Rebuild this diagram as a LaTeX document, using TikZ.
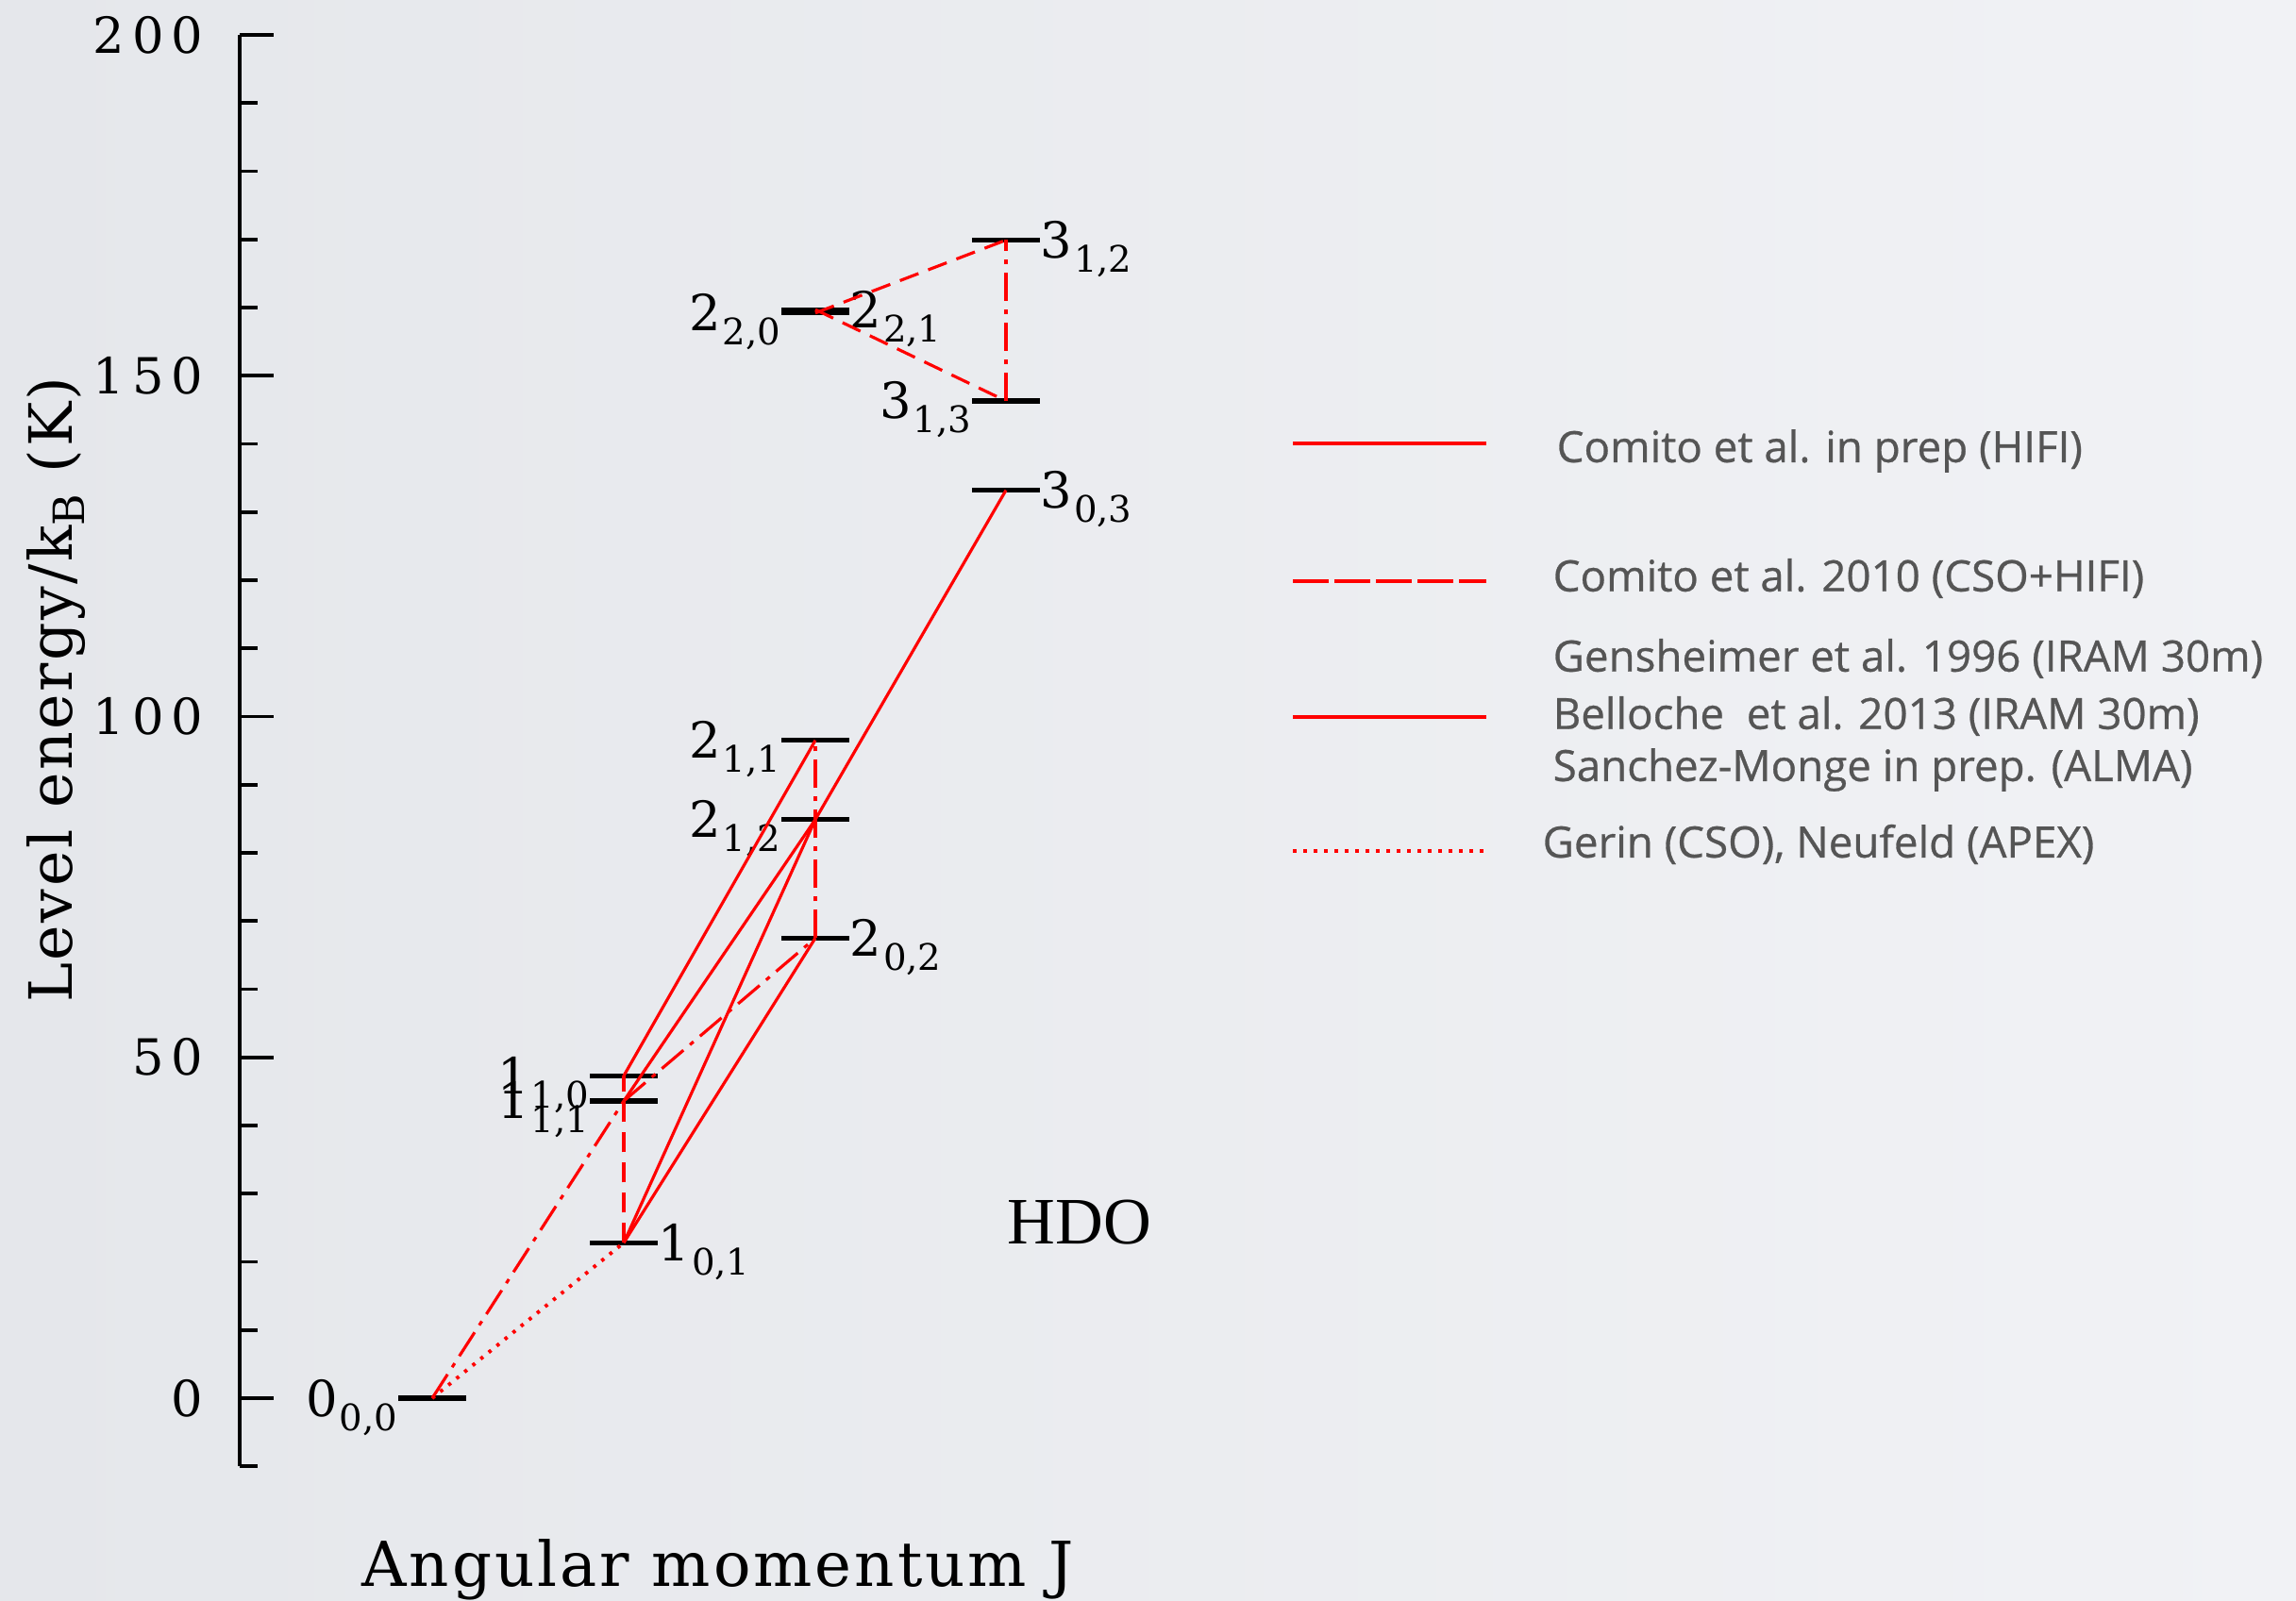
\documentclass[tikz,border=0pt]{standalone}
\usepackage{fontspec}
\setmainfont{DejaVu Serif}
\newfontfamily\plotfont[LetterSpace=15]{DejaVu Serif}
\newfontfamily\axisfont[LetterSpace=4.5]{DejaVu Serif}
\newfontfamily\ylabfont[LetterSpace=4]{DejaVu Serif}
\newfontfamily\molfont{Liberation Serif}
\newfontfamily\legfont[FakeBold=0.6]{Open Sans}
\usetikzlibrary{positioning}
\definecolor{bgleft}{HTML}{E5E7EB}
\definecolor{bgright}{HTML}{F1F2F5}
\definecolor{transred}{HTML}{FF0000}
\definecolor{legendgray}{HTML}{555555}
\newcommand{\lvl}[2]{#1\kern0.5pt\raisebox{-0.15cm}{\fontsize{11}{11}\selectfont #2}}

\begin{document}
\begin{tikzpicture}[
    level/.style={line width=1.5pt, black},
    tick/.style={line width=1.1pt, black},
    hifi/.style={line width=0.9pt, transred},
    cso/.style={line width=0.9pt, transred, dash pattern=on 0.21cm off 0.11cm},
    csodot/.style={line width=0.9pt, transred, dash pattern=on 0.3cm off 0.09cm on 0.05cm off 0.09cm},
    legdash/.style={line width=0.9pt, transred, dash pattern=on 0.38cm off 0.06cm},
    apex/.style={line width=1.1pt, transred, dash pattern=on 0.035cm off 0.075cm},
    lvlr/.style={anchor=base west, inner sep=0pt, xshift=0.36cm, yshift=-0.19cm, font=\fontsize{15}{15}\selectfont},
    lvll/.style={anchor=base east, inner sep=0pt, xshift=-0.36cm, yshift=-0.19cm, font=\fontsize{15}{15}\selectfont},
    ticklabel/.style={anchor=east, inner sep=0pt, font=\plotfont\fontsize{15}{15}\selectfont},
    legtext/.style={anchor=west, inner sep=0pt, font=\legfont\fontsize{13}{15}\selectfont, text=legendgray},
]
    % background
    \useasboundingbox (0,0) rectangle (24.33,16.96);
    \fill[left color=bgleft, right color=bgright] (0,0) rectangle (24.33,16.96);

    % axis titles
    \node[rotate=90, anchor=base, inner sep=0pt, font=\ylabfont\fontsize{18}{18}\selectfont] (ylab) at (0.76, 9.65) {Level energy/k\raisebox{-0.4ex}{\fontsize{13}{13}\selectfont B} (K)};
    \node[anchor=base, inner sep=0pt, font=\axisfont\fontsize{18.7}{18.7}\selectfont] (xlab) at (7.61, 0.15) {Angular momentum J};
    \node[font=\molfont\fontsize{20}{20}\selectfont] (mol) at (11.44, 4.00) {HDO};

    \begin{scope}[y=0.07225cm, yshift=2.14cm]
    % energy axis
    \draw[tick] (2.54,-10) -- (2.54,200);
    \foreach \e in {-10,0,...,200}
        \draw[tick] (2.54,\e) -- (2.73,\e);
    \foreach \e in {0,50,...,200}
        \draw[tick] (2.54,\e) -- (2.90,\e) node[ticklabel] (tk\e) at (2.17,\e) {\e};

    % levels
    \coordinate (l000) at (4.58, 0);
    \coordinate (l101) at (6.61, 22.8);
    \coordinate (l111) at (6.61, 43.6);
    \coordinate (l110) at (6.61, 47.3);
    \coordinate (l202) at (8.64, 67.5);
    \coordinate (l212) at (8.64, 84.9);
    \coordinate (l211) at (8.64, 96.5);
    \coordinate (l220) at (8.64, 159.2);
    \coordinate (l221) at (8.64, 159.7);
    \coordinate (l303) at (10.66, 133.2);
    \coordinate (l313) at (10.66, 146.3);
    \coordinate (l312) at (10.66, 169.9);
    \foreach \n in {l000,l101,l111,l110,l202,l212,l211,l220,l221,l303,l313,l312}
        \draw[level] ([xshift=-0.36cm]\n) -- ([xshift=0.36cm]\n);

    % level labels
    \node[lvll] (n000) at (l000) {\lvl{0}{0,0}};
    \node[lvlr] (n101) at (l101) {\lvl{1}{0,1}};
    \node[lvll] (n111) at (l111) {\lvl{1}{1,1}};
    \node[lvll] (n110) at (l110) {\lvl{1}{1,0}};
    \node[lvlr] (n202) at (l202) {\lvl{2}{0,2}};
    \node[lvll] (n212) at (l212) {\lvl{2}{1,2}};
    \node[lvll] (n211) at (l211) {\lvl{2}{1,1}};
    \node[lvll] (n220) at (l220) {\lvl{2}{2,0}};
    \node[lvlr] (n221) at (l221) {\lvl{2}{2,1}};
    \node[lvlr] (n303) at (l303) {\lvl{3}{0,3}};
    \node[lvll] (n313) at (l313) {\lvl{3}{1,3}};
    \node[lvlr] (n312) at (l312) {\lvl{3}{1,2}};

    % transitions
    \draw[hifi] (l110) -- (l211);
    \draw[hifi] (l111) -- (l212);
    \draw[hifi] (l101) -- (l212);
    \draw[hifi] (l101) -- (l202);
    \draw[hifi] (l212) -- (l303);
    \draw[csodot] (l000) -- (l111);
    \draw[csodot] (l111) -- (l202);
    \draw[csodot] (l202) -- (l211);
    \draw[csodot] (l313) -- (l312);
    \draw[cso] (l101) -- (l110);
    \draw[cso] (l220) -- (l312);
    \draw[cso] (l221) -- (l313);
    \draw[apex] (l000) -- (l101);
    \end{scope}

    % legend
    \draw[hifi] (13.70,12.26) -- (15.75,12.26);
    \draw[legdash] (13.70,10.80) -- (15.75,10.80);
    \draw[hifi] (13.70,9.36) -- (15.75,9.36);
    \draw[apex] (13.70,7.94) -- (15.75,7.94);
    \node[legtext] (leg1) at (16.49,12.18) {Comito et al. in prep (HIFI)};
    \node[legtext] (leg2) at (16.45,10.83) {Comito et al. 2010 (CSO+HIFI)};
    \node[legtext] (leg3) at (16.45,9.98) {Gensheimer et al. 1996 (IRAM 30m)};
    \node[legtext] (leg4) at (16.45,9.37) {Belloche\ \ et al. 2013 (IRAM 30m)};
    \node[legtext] (leg5) at (16.45,8.80) {Sanchez-Monge in prep. (ALMA)};
    \node[legtext] (leg6) at (16.34,8.01) {Gerin (CSO), Neufeld (APEX)};

\end{tikzpicture}
\end{document}
